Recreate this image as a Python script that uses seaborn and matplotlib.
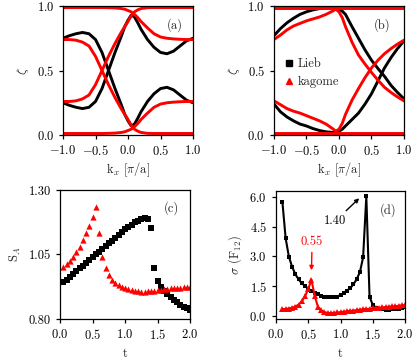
import numpy as np
import pandas as pd
import matplotlib
matplotlib.use("Agg")
import matplotlib.pyplot as plt
import seaborn as sns
from matplotlib.lines import Line2D

# ---- data ----
# panel (a): bands vs kx
kx_a = [-1.0, -0.9, -0.8, -0.7, -0.6, -0.5, -0.4, -0.3, -0.2, -0.1, -0.05,
        0.0, 0.05, 0.1, 0.15, 0.2, 0.3, 0.4, 0.5, 0.6, 0.7, 0.8, 0.9, 1.0]
lieb_a1 = [0.25, 0.23, 0.215, 0.205, 0.215, 0.26, 0.36, 0.50, 0.64, 0.77, 0.84,
           0.89, 0.93, 0.915, 0.87, 0.82, 0.74, 0.68, 0.64, 0.63, 0.65, 0.69, 0.73, 0.75]
lieb_a2 = [0.75, 0.77, 0.785, 0.795, 0.785, 0.74, 0.64, 0.50, 0.36, 0.23, 0.16,
           0.11, 0.07, 0.085, 0.13, 0.18, 0.26, 0.32, 0.36, 0.37, 0.35, 0.31, 0.27, 0.25]
kag_a1 = [0.74, 0.74, 0.735, 0.72, 0.69, 0.61, 0.50, 0.39, 0.29, 0.20, 0.16,
          0.12, 0.075, 0.045, 0.03, 0.02, 0.013, 0.012, 0.012, 0.012, 0.012, 0.012, 0.012, 0.012]
kag_a2 = [0.012, 0.012, 0.012, 0.012, 0.012, 0.012, 0.012, 0.013, 0.015, 0.02, 0.025,
          0.035, 0.045, 0.065, 0.09, 0.12, 0.17, 0.215, 0.24, 0.25, 0.255, 0.258, 0.26, 0.26]
kag_a3 = [0.26, 0.26, 0.265, 0.28, 0.31, 0.39, 0.50, 0.61, 0.71, 0.80, 0.84,
          0.88, 0.925, 0.955, 0.97, 0.98, 0.987, 0.988, 0.988, 0.988, 0.988, 0.988, 0.988, 0.988]
kag_a4 = [0.988, 0.988, 0.988, 0.988, 0.988, 0.988, 0.988, 0.987, 0.985, 0.98, 0.975,
          0.965, 0.955, 0.935, 0.91, 0.88, 0.83, 0.785, 0.76, 0.75, 0.745, 0.742, 0.74, 0.74]

# panel (b)
kx_b = [-1.0, -0.9, -0.8, -0.7, -0.6, -0.5, -0.4, -0.3, -0.2, -0.1, -0.05,
        0.0, 0.05, 0.1, 0.2, 0.3, 0.4, 0.5, 0.6, 0.7, 0.8, 0.9, 1.0]
lieb_b1 = [0.77, 0.825, 0.87, 0.905, 0.935, 0.955, 0.97, 0.98, 0.985, 0.985, 0.982,
           0.975, 0.96, 0.935, 0.84, 0.75, 0.66, 0.58, 0.515, 0.455, 0.385, 0.33, 0.28]
lieb_b2 = [0.24, 0.18, 0.14, 0.11, 0.085, 0.07, 0.05, 0.035, 0.025, 0.02, 0.02,
           0.03, 0.045, 0.07, 0.12, 0.17, 0.24, 0.32, 0.42, 0.52, 0.60, 0.67, 0.73]
kag_b1 = [0.74, 0.775, 0.815, 0.845, 0.865, 0.885, 0.90, 0.915, 0.935, 0.96, 0.975,
          0.955, 0.91, 0.84, 0.72, 0.62, 0.55, 0.485, 0.425, 0.37, 0.33, 0.295, 0.265]
kag_b2 = [0.265, 0.235, 0.205, 0.185, 0.17, 0.15, 0.13, 0.11, 0.085, 0.05, 0.03,
          0.045, 0.09, 0.16, 0.27, 0.36, 0.445, 0.52, 0.58, 0.63, 0.67, 0.705, 0.735]
kag_b_low = [0.015] * len(kx_b)
kag_b_high = [0.985] * len(kx_b)

# panel (c): entanglement entropy vs t
t_c = [0.05, 0.10, 0.15, 0.20, 0.25, 0.30, 0.35, 0.40, 0.45, 0.50,
       0.55, 0.60, 0.65, 0.70, 0.75, 0.80, 0.85, 0.90, 0.95, 1.00,
       1.05, 1.10, 1.15, 1.20, 1.25, 1.30, 1.35, 1.40, 1.45, 1.50,
       1.55, 1.60, 1.65, 1.70, 1.75, 1.80, 1.85, 1.90, 1.95, 2.00]
sa_lieb = [0.942, 0.953, 0.964, 0.975, 0.985, 0.996, 1.007, 1.018, 1.029, 1.040,
           1.050, 1.061, 1.072, 1.083, 1.093, 1.104, 1.115, 1.126, 1.136, 1.147,
           1.157, 1.166, 1.174, 1.181, 1.187, 1.190, 1.186, 1.151, 0.996, 0.948,
           0.923, 0.909, 0.896, 0.884, 0.873, 0.864, 0.855, 0.848, 0.841, 0.835]
sa_kag = [1.003, 1.013, 1.025, 1.041, 1.061, 1.080, 1.106, 1.132, 1.162, 1.197,
          1.235, 1.132, 1.041, 0.996, 0.971, 0.951, 0.941, 0.932, 0.925, 0.919,
          0.915, 0.912, 0.909, 0.907, 0.906, 0.906, 0.907, 0.908, 0.910, 0.912,
          0.914, 0.916, 0.918, 0.919, 0.920, 0.921, 0.922, 0.923, 0.924, 0.925]

# panel (d): sigma(F12) vs t
t_d = [0.10, 0.15, 0.20, 0.25, 0.30, 0.35, 0.40, 0.45, 0.50,
       0.55, 0.60, 0.65, 0.70, 0.75, 0.80, 0.85, 0.90, 0.95, 1.00,
       1.05, 1.10, 1.15, 1.20, 1.25, 1.30, 1.35, 1.40, 1.45, 1.50,
       1.55, 1.60, 1.65, 1.70, 1.75, 1.80, 1.85, 1.90, 1.95, 2.00]
sig_lieb = [5.75, 3.92, 2.99, 2.48, 2.10, 1.84, 1.64, 1.50, 1.37,
            1.26, 1.16, 1.08, 1.01, 0.96, 0.93, 0.92, 0.93, 0.97, 1.05,
            1.15, 1.27, 1.40, 1.58, 1.85, 2.20, 2.95, 6.05, 0.95, 0.55,
            0.40, 0.35, 0.32, 0.31, 0.31, 0.32, 0.33, 0.35, 0.38, 0.42]
sig_kag = [0.33, 0.34, 0.36, 0.40, 0.46, 0.56, 0.72, 0.98, 1.35,
           1.82, 1.00, 0.45, 0.27, 0.18, 0.14, 0.13, 0.14, 0.16, 0.18,
           0.20, 0.22, 0.24, 0.26, 0.28, 0.30, 0.32, 0.34, 0.35, 0.37,
           0.39, 0.40, 0.42, 0.44, 0.45, 0.47, 0.48, 0.50, 0.52, 0.54]

# ---- style ----
sns.set_style("ticks")
plt.rcParams['font.family'] = ['cmr10', 'DejaVu Serif']
plt.rcParams['mathtext.fontset'] = 'cm'
plt.rcParams['axes.formatter.use_mathtext'] = True
plt.rcParams['font.size'] = 9
plt.rcParams['axes.linewidth'] = 0.9
plt.rcParams['xtick.major.width'] = 0.9
plt.rcParams['ytick.major.width'] = 0.9
plt.rcParams['xtick.major.size'] = 3
plt.rcParams['ytick.major.size'] = 3
plt.rcParams['axes.edgecolor'] = 'black'
plt.rcParams['xtick.color'] = 'black'
plt.rcParams['ytick.color'] = 'black'

RED = '#ff0000'
fig = plt.figure(figsize=(4.15, 3.62), dpi=100)
ax_a = fig.add_axes([0.1518, 0.627, 0.3133, 0.3564])
ax_b = fig.add_axes([0.6602, 0.627, 0.3133, 0.3564])
ax_c = fig.add_axes([0.1446, 0.1188, 0.3133, 0.3564])
ax_d = fig.add_axes([0.665, 0.1188, 0.311, 0.3536])

lw = 2.1
for y in [lieb_a1, lieb_a2]:
    sns.lineplot(x=kx_a, y=y, color='black', lw=lw, ax=ax_a)
for y in [kag_a1, kag_a2, kag_a3, kag_a4]:
    sns.lineplot(x=kx_a, y=y, color=RED, lw=lw, ax=ax_a)
for y in [lieb_b1, lieb_b2]:
    sns.lineplot(x=kx_b, y=y, color='black', lw=lw, ax=ax_b)
for y in [kag_b1, kag_b2, kag_b_low, kag_b_high]:
    sns.lineplot(x=kx_b, y=y, color=RED, lw=lw, ax=ax_b)

for ax, lab in [(ax_a, '(a)'), (ax_b, '(b)')]:
    ax.set_xlim(-1, 1)
    ax.set_ylim(0, 1)
    ax.set_xticks([-1.0, -0.5, 0.0, 0.5, 1.0])
    ax.set_yticks([0.0, 0.5, 1.0])
    ax.set_xlabel(r'k$_x$ [$\pi$/a]', labelpad=2)
    ax.set_ylabel(r'$\zeta$')
    ax.text(0.86 if lab == '(a)' else 0.83, 0.85, lab, transform=ax.transAxes,
            ha='center', va='center')

handles = [Line2D([], [], color='black', marker='s', ls='none', markersize=4),
           Line2D([], [], color=RED, marker='^', ls='none', markersize=4.5)]
ax_b.legend(handles, ['Lieb', 'kagome'], frameon=False, loc='center left',
            bbox_to_anchor=(0.0, 0.48), handletextpad=0.1, handlelength=1.2,
            borderaxespad=0.2, labelspacing=0.5)

# panel (c)
sns.scatterplot(x=t_c, y=sa_lieb, marker='s', color='black', s=14, linewidth=0, ax=ax_c)
sns.scatterplot(x=t_c, y=sa_kag, marker='^', color=RED, s=20, linewidth=0, ax=ax_c)
ax_c.set_xlim(0, 2)
ax_c.set_ylim(0.80, 1.30)
ax_c.set_xticks([0.0, 0.5, 1.0, 1.5, 2.0])
ax_c.set_yticks([0.80, 1.05, 1.30])
ax_c.set_yticklabels(['0.80', '1.05', '1.30'])
ax_c.set_xlabel('t')
ax_c.set_ylabel(r'S$_A$')
ax_c.text(0.86, 0.86, '(c)', transform=ax_c.transAxes, ha='center', va='center')

# panel (d)
sns.lineplot(x=t_d, y=sig_lieb, color='black', lw=1.5, marker='s', markersize=3.5,
             markeredgewidth=0, ax=ax_d)
sns.lineplot(x=t_d, y=sig_kag, color=RED, lw=1.5, marker='^', markersize=4,
             markeredgewidth=0, ax=ax_d)
ax_d.set_xlim(0, 2)
ax_d.set_ylim(-0.17, 6.32)
ax_d.set_xticks([0.0, 0.5, 1.0, 1.5, 2.0])
ax_d.set_yticks([0.0, 1.5, 3.0, 4.5, 6.0])
ax_d.set_xlabel('t')
ax_d.set_ylabel(r'$\sigma$ (F$_{12}$)')
ax_d.text(0.865, 0.85, '(d)', transform=ax_d.transAxes, ha='center', va='center')
ax_d.annotate('1.40', xy=(1.29, 5.95), xytext=(0.92, 4.8), ha='center', va='center',
              color='black',
              arrowprops=dict(arrowstyle='-|>', color='black', lw=1.0,
                              mutation_scale=6, shrinkA=1, shrinkB=0))
ax_d.annotate('0.55', xy=(0.55, 2.3), xytext=(0.56, 3.75), ha='center', va='center',
              color=RED,
              arrowprops=dict(arrowstyle='-|>', color=RED, lw=1.0,
                              mutation_scale=6, shrinkA=1, shrinkB=0))

for ax in [ax_a, ax_b, ax_c, ax_d]:
    for sp in ax.spines.values():
        sp.set_visible(True)

fig.savefig('out.png', dpi=100)
